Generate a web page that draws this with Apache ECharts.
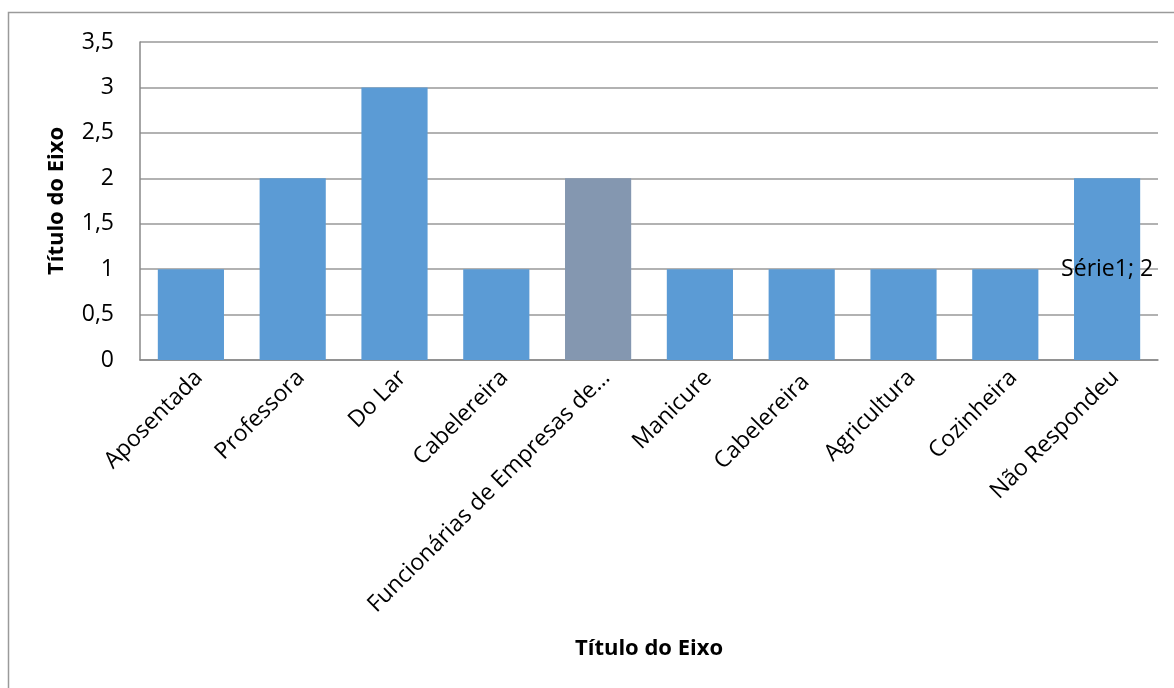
<!DOCTYPE html>
<html>
<head>
<meta charset="utf-8">
<script src="https://cdn.jsdelivr.net/npm/echarts@6/dist/echarts.min.js"></script>
<style>html,body{margin:0;padding:0;background:#fff;}#c{width:1174px;height:688px;}</style>
</head>
<body>
<div id="c"></div>
<script>
const categories = ['Aposentada','Professora','Do Lar','Cabelereira','Funcionárias de Empresas de…','Manicure','Cabelereira ','Agricultura','Cozinheira','Não Respondeu'];
const values = [1,2,3,1,2,1,1,1,1,2];
const highlightIndex = 4;
const yTicks = ['0','0,5','1','1,5','2','2,5','3','3,5'];
const labeledIndex = 9;
const seriesName = 'Série1';

const FONT = '"Open Sans", sans-serif';
const chart = echarts.init(document.getElementById('c'));
chart.setOption({
  animation: false,
  textStyle: {fontFamily: FONT},
  graphic: [{type:'rect', shape:{x:8.5,y:12.5,width:1300,height:800}, style:{fill:'none',stroke:'#9a9a9a',lineWidth:1.5}, silent:true, z:-1}],
  grid: {left:140, right:16, top:42, bottom:328},
  xAxis: {
    type:'category', data: categories,
    name:'Título do Eixo', nameLocation:'middle', nameGap:278,
    nameTextStyle:{fontFamily:FONT,fontWeight:'bold',fontSize:22,color:'#000'},
    axisLine:{lineStyle:{color:'#888',width:1.5}},
    axisTick:{show:false},
    axisLabel:{rotate:45, interval:0, fontFamily:FONT, fontSize:23, color:'#000', margin:6, verticalAlign:'top'}
  },
  yAxis: {
    type:'value', min:0, max:3.5, interval:0.5,
    name:'Título do Eixo', nameLocation:'middle', nameGap:72,
    nameTextStyle:{fontFamily:FONT,fontWeight:'bold',fontSize:22,color:'#000'},
    axisLine:{show:true,lineStyle:{color:'#888',width:1.5}},
    axisTick:{show:false},
    splitLine:{lineStyle:{color:'#999',width:1.5}},
    axisLabel:{fontFamily:FONT,fontSize:23,color:'#000',margin:26,
      formatter:(v)=>yTicks[Math.round(v/0.5)]}
  },
  series: [{
    name: seriesName,
    type:'bar', barWidth:'65%',
    data: values.map((v,i)=>({
      value:v,
      itemStyle:{color: i===highlightIndex ? '#8497B0' : '#5B9BD5'},
      label: i===labeledIndex ? {show:true, position:'inside', color:'#000', fontFamily:FONT, fontSize:23,
        formatter:(p)=>p.seriesName+'; '+p.value} : {show:false}
    }))
  }]
});
</script>
</body>
</html>
